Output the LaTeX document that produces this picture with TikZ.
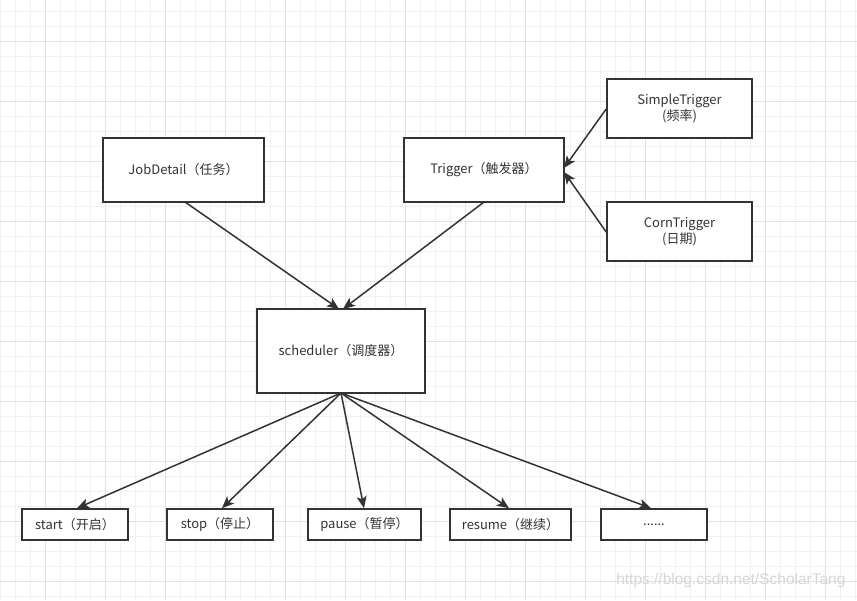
\documentclass[tikz,border=0pt]{standalone}
\usepackage{fontspec}
\setmainfont{Noto Sans CJK SC}
\newfontfamily\wmfont{Liberation Sans}
\usetikzlibrary{arrows.meta}
\definecolor{ink}{HTML}{333333}
\definecolor{gridminor}{HTML}{F1F1F1}
\definecolor{gridmajor}{HTML}{E2E2E2}
\definecolor{wm}{HTML}{D6D6D6}
\tikzset{
  box/.style={draw=ink, line width=1.6pt, fill=white, inner sep=0pt, text=ink,
    font=\fontsize{13}{16}\selectfont, align=center},
  conn/.style={draw=ink, line width=1.5pt, -{Stealth[length=12pt,width=10pt,inset=3pt]}, shorten >=0pt},
}
\begin{document}
\begin{tikzpicture}[x=1pt,y=-1pt]
\useasboundingbox (0,0) rectangle (857,600);
\fill[white] (0,0) rectangle (857,600);
% grid
\foreach \gx in {0,15,...,855} \draw[gridminor, line width=0.8pt] (\gx,0) -- (\gx,600);
\foreach \gy in {11,26,...,600} \draw[gridminor, line width=0.8pt] (0,\gy) -- (857,\gy);
\foreach \gx in {45,105,...,855} \draw[gridmajor, line width=0.8pt] (\gx,0) -- (\gx,600);
\foreach \gy in {41,101,...,600} \draw[gridmajor, line width=0.8pt] (0,\gy) -- (857,\gy);

% nodes
\node[box, minimum width=161pt, minimum height=64pt] (job) at (183.5,170) {JobDetail（任务）};
\node[box, minimum width=160pt, minimum height=64pt] (trig) at (484,170) {Trigger（触发器）};
\node[box, minimum width=145pt, minimum height=59pt] (simple) at (679.5,108.5) {SimpleTrigger\\(频率)};
\node[box, minimum width=145pt, minimum height=59pt] (corn) at (679.5,231.5) {CornTrigger\\(日期)};
\node[box, minimum width=168pt, minimum height=84pt] (sched) at (341,351) {scheduler（调度器）};

\node[box, minimum width=106pt, minimum height=31pt] (start) at (75,524.5) {start（开启）};
\node[box, minimum width=106pt, minimum height=31pt] (stop) at (220,524.5) {stop（停止）};
\node[box, minimum width=113pt, minimum height=31pt] (pause) at (364.5,524.5) {pause（暂停）};
\node[box, minimum width=121pt, minimum height=31pt] (resume) at (510.5,524.5) {resume（继续）};
\node[box, minimum width=106pt, minimum height=31pt] (more) at (654,524.5) {......};

% connectors
\coordinate (jobout) at (185,202);
\coordinate (trigout) at (484,202);
\coordinate (schedin1) at (339,309);
\coordinate (schedin2) at (343,309);
\coordinate (trigin) at (564,170);
\coordinate (schedout) at (341,393);
\draw[conn] (jobout) -- (schedin1);
\draw[conn] (trigout) -- (schedin2);
\draw[conn] (simple.west |- 0,109) -- (trigin |- 0,168);
\draw[conn] (corn.west |- 0,232) -- (trigin |- 0,172);
\draw[conn] (schedout) -- (start.north -| 77,0);
\draw[conn] (schedout) -- (stop.north -| 222,0);
\draw[conn] (schedout) -- (pause.north -| 364,0);
\draw[conn] (schedout) -- (resume.north -| 509,0);
\draw[conn] (schedout) -- (more.north -| 651,0);

% watermark
\node[text=wm, font=\wmfont\fontsize{15.5}{18}\selectfont, anchor=east] (wmark) at (849,580) {https://blog.csdn.net/ScholarTang};
\end{tikzpicture}
\end{document}
